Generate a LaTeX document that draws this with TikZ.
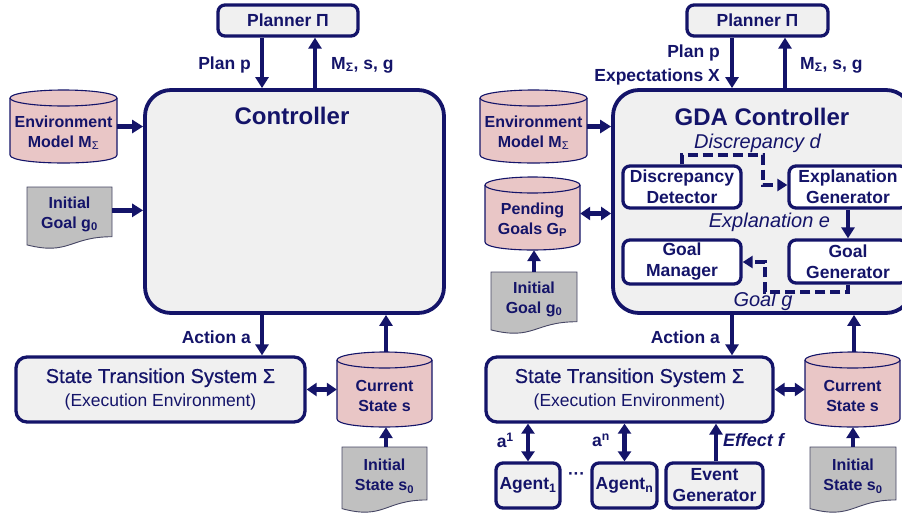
\documentclass[tikz,border=0pt]{standalone}
\usepackage{fontspec}
\setmainfont{Liberation Sans}
\usetikzlibrary{arrows.meta,calc}

\definecolor{navy}{RGB}{20,20,105}
\definecolor{boxgray}{RGB}{240,240,240}
\definecolor{drumpink}{RGB}{233,198,198}
\definecolor{docgray}{RGB}{192,192,192}
\definecolor{docline}{RGB}{70,70,100}

\newcommand\fsz[2]{\fontsize{#1pt}{#2pt}\selectfont}
\newcommand\stsname{{\addfontfeature{FakeBold=0.6}State Transition System Σ}}

\tikzset{
  plainbox/.style={draw=navy, line width=3.3pt, fill=boxgray, rounded corners=7pt,
    text=navy, font=\bfseries\fsz{17.5}{21}, align=center, inner sep=0pt},
  whitebox/.style={plainbox, fill=white},
  bigbox/.style={draw=navy, line width=3.8pt, fill=boxgray, rounded corners=26pt, inner sep=0pt},
  ctitle/.style={text=navy, font=\bfseries\fsz{24}{28}, inner sep=0pt},
  lbl/.style={text=navy, font=\bfseries\fsz{17.5}{24}, inner sep=0pt, align=right},
  ital/.style={text=navy, font=\itshape\fsz{20}{24}, inner sep=0pt},
  arr/.style={draw=navy, line width=4.5pt, -{Triangle[length=11pt,width=13pt]}},
  darr/.style={draw=navy, line width=4.5pt,
    {Triangle[length=10pt,width=13pt]}-{Triangle[length=10pt,width=13pt]}},
  dasharr/.style={draw=navy, line width=3.8pt, dash pattern=on 10pt off 5pt,
    -{Triangle[length=10pt,width=12pt]}},
  drumline/.style={draw=navy, line width=1.1pt},
  pinkfill/.style={fill=drumpink},
  anchorbox/.style={draw=none, fill=none, inner sep=0pt, rectangle},
  drumtext/.style={text=navy, font=\bfseries\fsz{16}{20}, align=center, inner sep=0pt},
  docstyle/.style={fill=docgray, draw=docline, line width=0.9pt},
  doctext/.style={text=navy, font=\bfseries\fsz{16}{20}, align=center, inner sep=0pt},
}

% database drum: name, left, top, right, bottom, text
\newcommand\drum[6]{%
  \fill[pinkfill] (#2,{#3+8}) -- (#2,{#5-8})
    .. controls (#2,{#5+8/3}) and (#4,{#5+8/3}) .. (#4,{#5-8}) -- (#4,{#3+8}) -- cycle;
  \draw[drumline] (#2,{#3+8}) -- (#2,{#5-8})
    .. controls (#2,{#5+8/3}) and (#4,{#5+8/3}) .. (#4,{#5-8}) -- (#4,{#3+8});
  \filldraw[pinkfill, drumline] ({(#2+#4)/2},{#3+8}) ellipse [x radius={(#4-#2)/2}, y radius=8];
  \node[anchorbox, minimum width={#4-#2}, minimum height={#5-#3}] (#1) at ({(#2+#4)/2},{(#3+#5)/2}) {};
  \node[drumtext] (#1-t) at ({(#2+#4)/2},{(#3+#5)/2+6}) {#6};
}

% document sheet with wavy lower edge: name, left, top, width, height, text
\newcommand\docsheet[6]{%
  \filldraw[docstyle] (#2,#3) -- ({#2+#4},#3) -- ({#2+#4},{#3+0.802*#5})
    .. controls ({#2+#4/2},{#3+0.802*#5}) and ({#2+#4/2},{#3+1.1075*#5}) .. (#2,{#3+0.934*#5}) -- cycle;
  \node[anchorbox, minimum width={#4}, minimum height={0.85*#5}] (#1) at ({#2+#4/2},{#3+0.425*#5}) {};
  \node[doctext] (#1-t) at ({#2+#4/2},{#3+0.44*#5}) {#6};
}

\begin{document}
\begin{tikzpicture}[x=1pt,y=-1pt]
\useasboundingbox (0,0) rectangle (902,512);
\clip (0,0) rectangle (902,512);

%% ---------------- classical controller ----------------
\node[plainbox, minimum width=140, minimum height=31] (plannerL) at (288,20.5) {Planner Π};
\node[bigbox, minimum width=299, minimum height=223] (controllerL) at (294.5,201.5) {};
\node[ctitle] (titleL) at (292,116) {Controller};

\drum{envL}{10}{90}{117}{163}{Environment\\Model M\textsubscript{\normalfont Σ}}
\docsheet{goalL}{27}{187}{85}{62}{Initial\\Goal g\textsubscript{0}}

\node[plainbox, minimum width=289, minimum height=65, rounded corners=11pt,
      font=\fsz{20}{23}] (stsL) at (160.5,389.5)
      {\stsname\\[1pt]{\fsz{17.5}{21}(Execution Environment)}};
\drum{curL}{337}{352}{432}{427}{Current\\State s}
\docsheet{sL}{342}{447}{85}{66}{Initial\\State s\textsubscript{0}}

\draw[arr] ([xshift=-26pt]plannerL.south) -- ([xshift=-26pt]plannerL.south |- controllerL.north);
\draw[arr] ([xshift=27pt]plannerL.south |- controllerL.north) -- ([xshift=27pt]plannerL.south);
\node[lbl, anchor=east] (planLbl) at (251,65) {Plan p};
\node[lbl, anchor=west] (msgLbl) at (331,65) {M\textsubscript{Σ}, s, g};

\draw[arr] (envL.east) -- (envL.east -| controllerL.west);
\draw[arr] ([yshift=3pt]goalL.east) -- ([yshift=3pt]goalL.east -| controllerL.west);

\draw[arr] ([xshift=-26pt]plannerL.south |- controllerL.south) -- ([xshift=-26pt]plannerL.south |- stsL.north);
\node[lbl, anchor=east] (actLbl) at (251,337) {Action a};
\draw[darr] (stsL.east) -- (stsL.east -| curL.west);
\draw[arr] ([xshift=1.5pt]curL.north) -- ([xshift=1.5pt]curL.north |- controllerL.south);
\draw[arr] ([xshift=1.5pt]sL.north) -- ([xshift=1.5pt]sL.north |- curL.south);

%% ---------------- GDA controller ----------------
\node[plainbox, minimum width=141, minimum height=31] (plannerR) at (757.5,20.5) {Planner Π};
\node[bigbox, minimum width=299, minimum height=223] (controllerR) at (762.5,201.5) {};
\node[ctitle] (titleR) at (762,117) {GDA Controller};

\drum{envR}{480}{90}{587}{163}{Environment\\Model M\textsubscript{\normalfont Σ}}
\drum{pendR}{485}{177}{580}{250}{Pending\\Goals G\textsubscript{P}}
\docsheet{goalR}{491}{272}{86}{62}{Initial\\Goal g\textsubscript{0}}

\node[whitebox, minimum width=118, minimum height=42] (dd) at (682,187) {Discrepancy\\Detector};
\node[whitebox, minimum width=118, minimum height=42] (eg) at (848,187) {Explanation\\Generator};
\node[whitebox, minimum width=118, minimum height=44] (gm) at (682,262) {Goal\\Manager};
\node[whitebox, minimum width=118, minimum height=43] (gg) at (848,261.5) {Goal\\Generator};

\node[ital] (discLbl) at (757.5,143) {Discrepancy d};
\node[ital] (explLbl) at (769.5,222) {Explanation e};
\node[ital] (goalLbl) at (763,301) {Goal g};

\coordinate (dbend) at (763,155);
\coordinate (gbend) at (765,292);
\draw[dasharr] (dd.north) |- (dbend) |- ([yshift=2pt]eg.west);
\draw[arr] (eg.south) -- (gg.north);
\draw[dasharr] (gg.south) |- (gbend) |- (gm.east);

\node[plainbox, minimum width=287, minimum height=65, rounded corners=11pt,
      font=\fsz{20}{23}] (stsR) at (629.5,389.5)
      {\stsname\\[1pt]{\fsz{17.5}{21}(Execution Environment)}};
\drum{curR}{805}{352}{900}{427}{Current\\State s}
\docsheet{sR}{810}{447}{86}{66}{Initial\\State s\textsubscript{0}}

\draw[arr] ([xshift=-25.5pt]plannerR.south) -- ([xshift=-25.5pt]plannerR.south |- controllerR.north);
\draw[arr] ([xshift=27.5pt]plannerR.south |- controllerR.north) -- ([xshift=27.5pt]plannerR.south);
\node[lbl, anchor=east] (planRLbl) at (720,64.5) {Plan p\\Expectations X};
\node[lbl, anchor=west] (msgRLbl) at (800,65) {M\textsubscript{Σ}, s, g};

\draw[arr] (envR.east) -- (envR.east -| controllerR.west);
\draw[darr] (pendR.east) -- (pendR.east -| controllerR.west);
\draw[arr] (goalR.north) -- (goalR.north |- pendR.south);

\draw[arr] ([xshift=-25.5pt]plannerR.south |- controllerR.south) -- ([xshift=-25.5pt]plannerR.south |- stsR.north);
\node[lbl, anchor=east] (actRLbl) at (720,337) {Action a};
\draw[darr] (stsR.east) -- (stsR.east -| curR.west);
\draw[arr] ([xshift=1.5pt]curR.north) -- ([xshift=1.5pt]curR.north |- controllerR.south);
\draw[arr] (sR.north) -- (sR.north |- curR.south);

% agents and event source below the execution environment
\node[plainbox, minimum width=64, minimum height=45] (ag1) at (528,485.5) {Agent\textsubscript{1}};
\node[plainbox, minimum width=65, minimum height=45] (agn) at (624.5,485.5) {Agent\textsubscript{n}};
\node[plainbox, minimum width=97, minimum height=45] (evg) at (714.5,485.5) {Event\\Generator};
\node[text=navy, font=\bfseries\fsz{17}{20}, inner sep=0pt] (dots) at (576.5,476) {···};

\draw[darr] (ag1.north) -- (ag1.north |- stsR.south);
\draw[darr] (agn.north) -- (agn.north |- stsR.south);
\draw[arr] ([xshift=1.5pt]evg.north) -- ([xshift=1.5pt]evg.north |- stsR.south);
\node[lbl, anchor=east] (a1Lbl) at (514,440) {a\textsuperscript{1}};
\node[lbl, anchor=east] (anLbl) at (610,440) {a\textsuperscript{n}};
\node[lbl, anchor=west, font=\bfseries\itshape\fsz{18}{22}] (effLbl) at (723,440) {Effect f};
\end{tikzpicture}
\end{document}
